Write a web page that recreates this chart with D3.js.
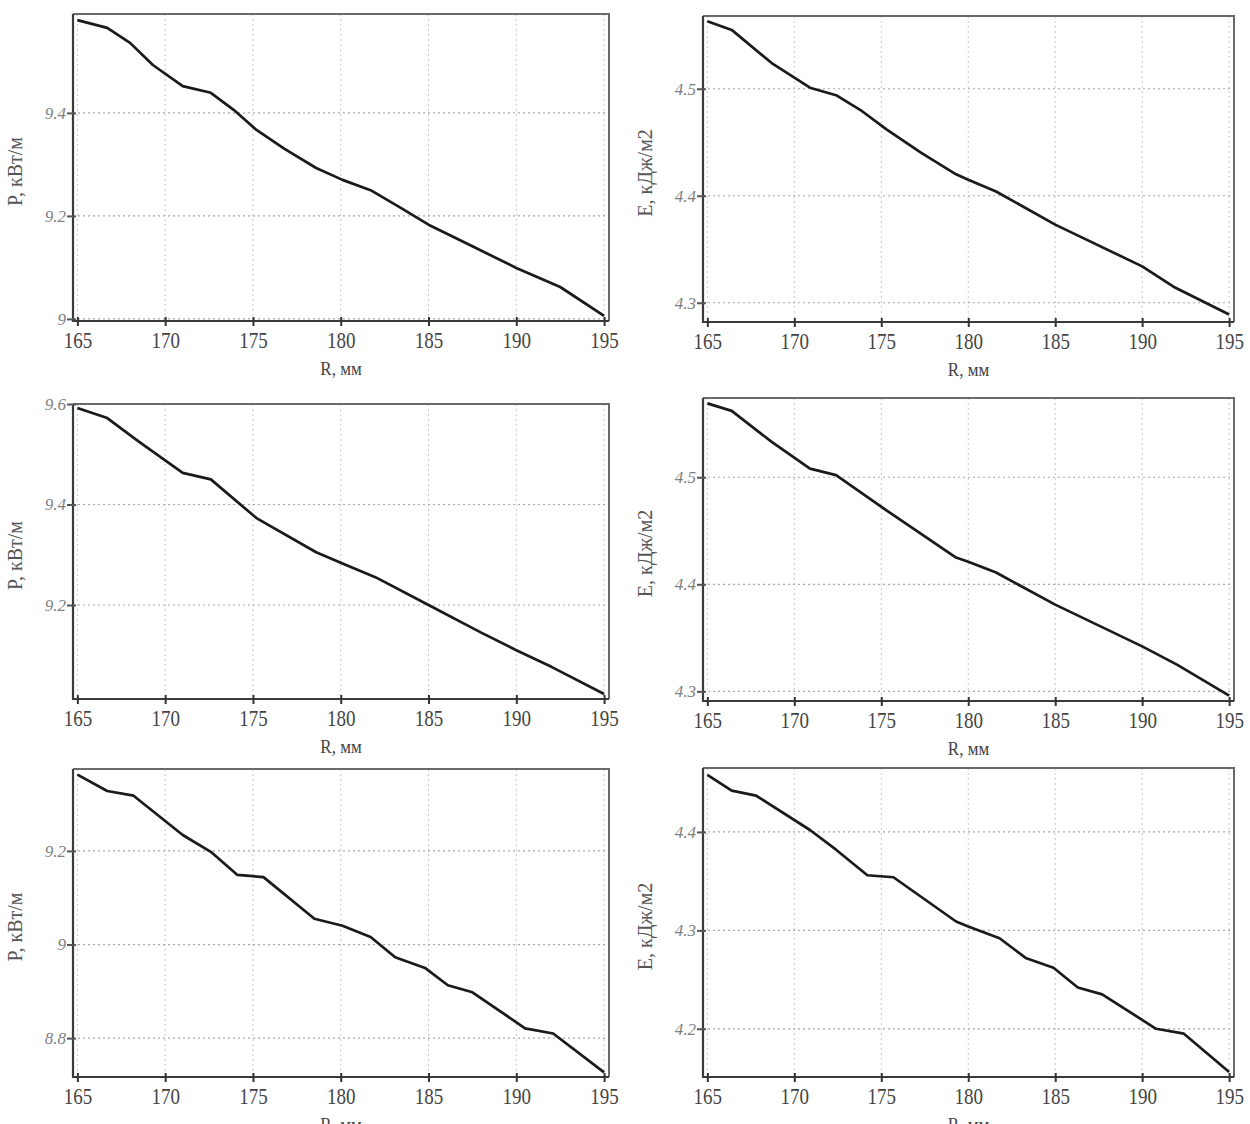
<!DOCTYPE html>
<html>
<head>
<meta charset="utf-8">
<script src="https://cdn.jsdelivr.net/npm/d3@7"></script>
<style>
  body { margin: 0; background: #fff; }
  svg { display: block; }
</style>
</head>
<body>
<div id="chart"></div>
<script>
// x values are the same axis for every panel
const xTicks = [165, 170, 175, 180, 185, 190, 195];

// top-left: P, кВт/м
const r1 = [165, 166.7, 168, 169.3, 171, 172.6, 173.9, 175.2, 176.8, 178.6, 180.1, 181.7, 183.3, 185, 187.5, 190, 192.5, 195];
const p1 = [9.580, 9.565, 9.536, 9.493, 9.452, 9.439, 9.406, 9.367, 9.330, 9.293, 9.270, 9.250, 9.218, 9.183, 9.141, 9.099, 9.062, 9.006];

// top-right: E, кДж/м2
const r2 = [165, 166.4, 168.7, 170.9, 172.4, 173.9, 175.3, 177.3, 179.3, 180, 181.6, 185, 190, 191.8, 195];
const e2 = [4.563, 4.555, 4.524, 4.501, 4.494, 4.479, 4.462, 4.440, 4.420, 4.415, 4.404, 4.373, 4.334, 4.315, 4.289];

// middle-left
const r3 = [165, 166.7, 168.5, 171, 172.6, 175.2, 178.6, 180, 182, 185, 188, 190, 192, 195];
const p3 = [9.592, 9.572, 9.525, 9.463, 9.450, 9.373, 9.305, 9.284, 9.255, 9.200, 9.145, 9.110, 9.077, 9.023];

// middle-right
const r4 = [165, 166.4, 168.7, 170.9, 172.4, 175.3, 179.3, 180, 181.6, 185, 190, 192, 195];
const e4 = [4.569, 4.562, 4.533, 4.508, 4.502, 4.469, 4.425, 4.421, 4.411, 4.381, 4.342, 4.325, 4.296];

// bottom-left
const r5 = [165, 166.7, 168.2, 171, 172.6, 174.1, 175.6, 178.5, 180.1, 181.7, 183.1, 184.8, 186.1, 187.5, 190.5, 192.1, 195];
const p5 = [9.363, 9.328, 9.318, 9.234, 9.198, 9.149, 9.144, 9.055, 9.040, 9.016, 8.973, 8.950, 8.913, 8.898, 8.821, 8.810, 8.727];

// bottom-right
const r6 = [165, 166.4, 167.8, 170.9, 172.4, 174.2, 175.7, 179.3, 180, 181.8, 183.3, 184.9, 186.3, 187.7, 190.8, 192.4, 195];
const e6 = [4.458, 4.442, 4.437, 4.402, 4.382, 4.356, 4.354, 4.309, 4.304, 4.292, 4.272, 4.262, 4.242, 4.235, 4.200, 4.195, 4.156];

const yTicksP1 = [9.0, 9.2, 9.4];
const yTicksP3 = [9.2, 9.4, 9.6];
const yTicksP5 = [8.8, 9.0, 9.2];
const yTicksE2 = [4.3, 4.4, 4.5];
const yTicksE4 = [4.3, 4.4, 4.5];
const yTicksE6 = [4.2, 4.3, 4.4];

const xLabel = "R, мм";
const pLabel = "P, кВт/м";
const eLabel = "E, кДж/м2";

const width = 1250, height = 1124;

const panels = [
    { xs: r1, ys: p1, yTicks: yTicksP1, yDomain: [8.996, 9.592], yTitle: pLabel, box: [73, 14, 609, 321] },
    { xs: r2, ys: e2, yTicks: yTicksE2, yDomain: [4.282, 4.568], yTitle: eLabel, box: [703, 16, 1234, 322] },
    { xs: r3, ys: p3, yTicks: yTicksP3, yDomain: [9.013, 9.600], yTitle: pLabel, box: [73, 404, 609, 699] },
    { xs: r4, ys: e4, yTicks: yTicksE4, yDomain: [4.291, 4.574], yTitle: eLabel, box: [703, 398, 1234, 701] },
    { xs: r5, ys: p5, yTicks: yTicksP5, yDomain: [8.717, 9.375], yTitle: pLabel, box: [73, 769, 609, 1077] },
    { xs: r6, ys: e6, yTicks: yTicksE6, yDomain: [4.151, 4.465], yTitle: eLabel, box: [703, 768, 1234, 1077] }
];

const svg = d3.select("#chart").append("svg")
    .attr("width", width)
    .attr("height", height);

const fmtY = d => (Number.isInteger(d) ? d3.format("d")(d) : d3.format(".1f")(d));

panels.forEach(p => {
    const [x0, y0, x1, y1] = p.box;
    const xScale = d3.scaleLinear().domain([164.75, 195.28]).range([x0, x1]);
    const yScale = d3.scaleLinear().domain(p.yDomain).range([y1, y0]);

    const g = svg.append("g");

    // grid
    g.selectAll(".vgrid")
        .data(xTicks)
        .join("line")
        .attr("x1", d => xScale(d)).attr("x2", d => xScale(d))
        .attr("y1", y0).attr("y2", y1)
        .attr("stroke", "#c8c8c8")
        .attr("stroke-width", 1)
        .attr("stroke-dasharray", "2,3");

    g.selectAll(".hgrid")
        .data(p.yTicks)
        .join("line")
        .attr("x1", x0).attr("x2", x1)
        .attr("y1", d => yScale(d)).attr("y2", d => yScale(d))
        .attr("stroke", "#a8a8a8")
        .attr("stroke-width", 1.2)
        .attr("stroke-dasharray", "2,3");

    // frame: top/right lighter, left/bottom darker
    g.append("path")
        .attr("d", `M${x0},${y0}H${x1}V${y1}`)
        .attr("fill", "none")
        .attr("stroke", "#6a6a6a")
        .attr("stroke-width", 2);
    g.append("path")
        .attr("d", `M${x0},${y0}V${y1}H${x1}`)
        .attr("fill", "none")
        .attr("stroke", "#3a3a3a")
        .attr("stroke-width", 2.2);

    // x ticks and labels
    const xAxis = d3.axisBottom(xScale)
        .tickValues(xTicks)
        .tickSize(5)
        .tickSizeOuter(0)
        .tickFormat(d3.format("d"));
    const xg = g.append("g")
        .attr("transform", `translate(0,${y1 - 4})`)
        .call(xAxis);
    xg.select(".domain").remove();
    xg.selectAll(".tick line").attr("stroke", "#333").attr("stroke-width", 2).attr("y2", 9);
    xg.selectAll(".tick text")
        .attr("y", 0)
        .attr("dy", 0)
        .attr("transform", "translate(0,31) scale(1,1.2)")
        .attr("font-family", "'Liberation Serif', 'DejaVu Serif', serif")
        .attr("font-size", 19)
        .attr("fill", "#444");

    // y ticks and labels
    const yAxis = d3.axisLeft(yScale)
        .tickValues(p.yTicks)
        .tickSize(6)
        .tickSizeOuter(0)
        .tickFormat(fmtY);
    const yg = g.append("g")
        .attr("transform", `translate(${x0 + 3},0)`)
        .call(yAxis);
    yg.select(".domain").remove();
    yg.selectAll(".tick line").attr("stroke", "#555").attr("stroke-width", 2).attr("x2", -9);
    yg.selectAll(".tick text")
        .attr("x", -10)
        .attr("font-family", "'Liberation Serif', 'DejaVu Serif', serif")
        .attr("font-style", "italic")
        .attr("font-size", 17)
        .attr("fill", "#808080");

    // curve
    const pts = p.xs.map((x, i) => [x, p.ys[i]]);
    g.append("path")
        .datum(pts)
        .attr("d", d3.line().x(d => xScale(d[0])).y(d => yScale(d[1])))
        .attr("fill", "none")
        .attr("stroke", "#1a1a1a")
        .attr("stroke-width", 2.7)
        .attr("stroke-linejoin", "round");

    // axis titles (bottom row title is clipped by the page edge, as in the source)
    g.append("text")
        .attr("transform", `translate(${(x0 + x1) / 2},${y1 + 54}) scale(1,1.15)`)
        .attr("text-anchor", "middle")
        .attr("font-family", "'Liberation Serif', 'DejaVu Serif', serif")
        .attr("font-size", 17)
        .attr("fill", "#444")
        .text(xLabel);

    g.append("text")
        .attr("transform", `translate(${x0 - 51},${(y0 + y1) / 2 + 4}) rotate(-90)`)
        .attr("text-anchor", "middle")
        .attr("font-family", "'Liberation Serif', 'DejaVu Serif', serif")
        .attr("font-size", 20)
        .attr("fill", "#555")
        .text(p.yTitle);
});
</script>
</body>
</html>
